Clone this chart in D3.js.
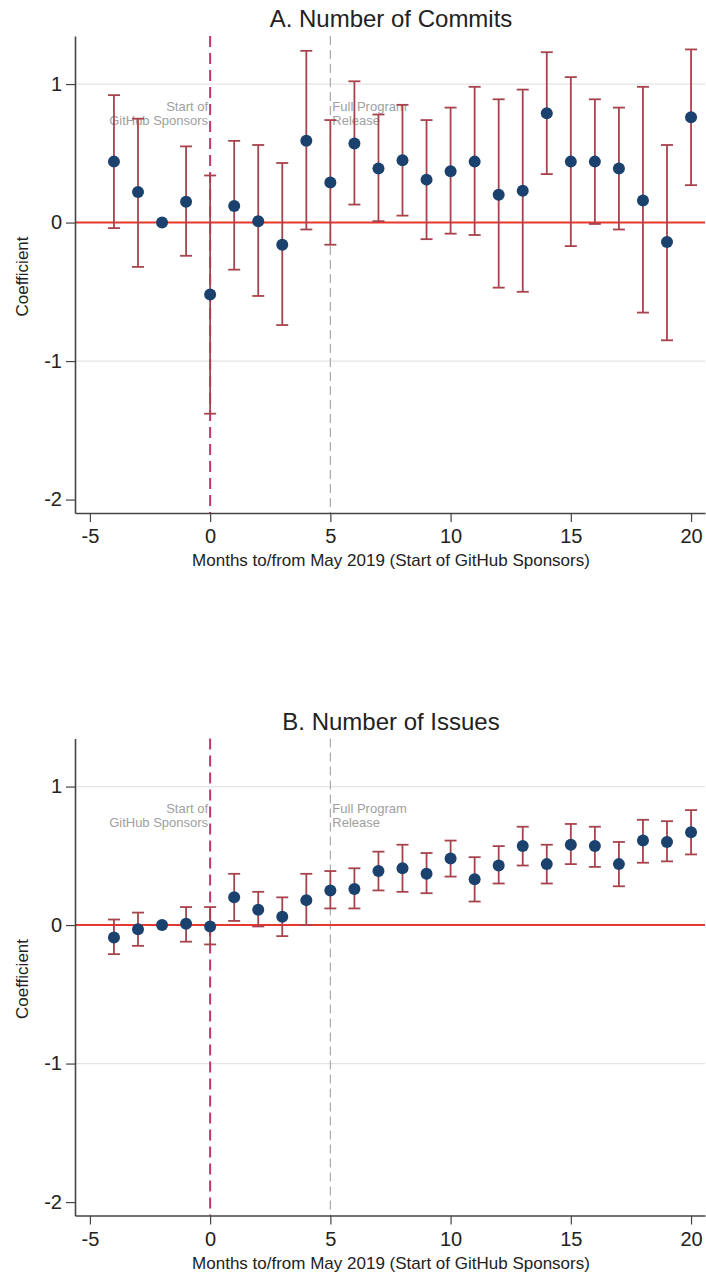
<!DOCTYPE html>
<html>
<head>
<meta charset="utf-8">
<script src="https://cdn.jsdelivr.net/npm/d3@7"></script>
<style>
  body { margin: 0; background: #fff; }
  svg { display: block; font-family: "Liberation Sans", Arial, sans-serif; }
</style>
</head>
<body>
<svg width="706" height="1275"></svg>
<script>
// event-study coefficients, months relative to May 2019
const months = [-4, -3, -2, -1, 0, 1, 2, 3, 4, 5, 6, 7, 8, 9, 10, 11, 12, 13, 14, 15, 16, 17, 18, 19, 20];

const commitsCoef = [0.44, 0.22, 0, 0.15, -0.52, 0.12, 0.01, -0.16, 0.59, 0.29, 0.57, 0.39, 0.45, 0.31, 0.37, 0.44, 0.20, 0.23, 0.79, 0.44, 0.44, 0.39, 0.16, -0.14, 0.76];
const commitsLo = [-0.04, -0.32, null, -0.24, -1.38, -0.34, -0.53, -0.74, -0.05, -0.16, 0.13, 0.01, 0.05, -0.12, -0.08, -0.09, -0.47, -0.50, 0.35, -0.17, -0.01, -0.05, -0.65, -0.85, 0.27];
const commitsHi = [0.92, 0.75, null, 0.55, 0.34, 0.59, 0.56, 0.43, 1.24, 0.74, 1.02, 0.78, 0.85, 0.74, 0.83, 0.98, 0.89, 0.96, 1.23, 1.05, 0.89, 0.83, 0.98, 0.56, 1.25];

const issuesCoef = [-0.09, -0.03, 0, 0.01, -0.01, 0.20, 0.11, 0.06, 0.18, 0.25, 0.26, 0.39, 0.41, 0.37, 0.48, 0.33, 0.43, 0.57, 0.44, 0.58, 0.57, 0.44, 0.61, 0.60, 0.67];
const issuesLo = [-0.21, -0.15, null, -0.12, -0.14, 0.03, -0.01, -0.08, 0.00, 0.12, 0.12, 0.25, 0.24, 0.23, 0.35, 0.17, 0.30, 0.43, 0.30, 0.44, 0.42, 0.28, 0.45, 0.46, 0.51];
const issuesHi = [0.04, 0.09, null, 0.13, 0.13, 0.37, 0.24, 0.20, 0.37, 0.39, 0.41, 0.53, 0.58, 0.52, 0.61, 0.49, 0.57, 0.71, 0.58, 0.73, 0.71, 0.60, 0.76, 0.75, 0.83];

const xTicks = [-5, 0, 5, 10, 15, 20];
const yTicks = [1, 0, -1, -2];
const events = [
  {month: 0, lines: ["Start of", "GitHub Sponsors"], side: "left"},
  {month: 5, lines: ["Full Program", "Release"], side: "right"}
];

const svg = d3.select("svg");

const x = d3.scaleLinear().domain([-5.62, 20.58]).range([75, 705]);
const y = d3.scaleLinear().domain([-2.097, 1.347]).range([513, 36]);

function drawPanel(offset, title, coef, lo, hi) {
  const g = svg.append("g").attr("transform", `translate(0,${offset})`);
  const rows = months.map((m, i) => ({m, c: coef[i], lo: lo[i], hi: hi[i]}));

  // grid at 1 and -1
  g.selectAll(".grid").data([1, -1]).join("line")
    .attr("x1", x.range()[0]).attr("x2", x.range()[1])
    .attr("y1", d => y(d)).attr("y2", d => y(d))
    .attr("stroke", "#e4e4e4").attr("stroke-width", 1.2);

  // event lines
  g.append("line")
    .attr("x1", x(0)).attr("x2", x(0)).attr("y1", y.range()[1]).attr("y2", y.range()[0])
    .attr("stroke", "#c4336b").attr("stroke-width", 2).attr("stroke-dasharray", "11,6");
  g.append("line")
    .attr("x1", x(5)).attr("x2", x(5)).attr("y1", y.range()[1]).attr("y2", y.range()[0])
    .attr("stroke", "#aaaaaa").attr("stroke-width", 1.2).attr("stroke-dasharray", "9,5");

  events.forEach(ev => {
    const t = g.append("text")
      .attr("font-size", 13).attr("fill", "#a0a0a0")
      .attr("text-anchor", ev.side === "left" ? "end" : "start");
    ev.lines.forEach((s, k) => {
      t.append("tspan")
        .attr("x", x(ev.month) + (ev.side === "left" ? -2 : 2))
        .attr("y", y(0.84 - k * 0.1))
        .attr("dy", "0.35em")
        .text(s);
    });
  });

  // zero line
  g.append("line")
    .attr("x1", x.range()[0]).attr("x2", x.range()[1])
    .attr("y1", y(0)).attr("y2", y(0))
    .attr("stroke", "#e8372f").attr("stroke-width", 2);

  // confidence intervals
  const ci = rows.filter(d => d.lo !== null);
  const barColor = "#a8424c";
  g.selectAll(".ci").data(ci).join("line")
    .attr("x1", d => x(d.m)).attr("x2", d => x(d.m))
    .attr("y1", d => y(d.lo)).attr("y2", d => y(d.hi))
    .attr("stroke", barColor).attr("stroke-width", 1.8);
  ["lo", "hi"].forEach(k => {
    g.selectAll(".cap-" + k).data(ci).join("line")
      .attr("x1", d => x(d.m) - 6).attr("x2", d => x(d.m) + 6)
      .attr("y1", d => y(d[k])).attr("y2", d => y(d[k]))
      .attr("stroke", barColor).attr("stroke-width", 1.8);
  });

  // points
  g.selectAll(".pt").data(rows).join("circle")
    .attr("cx", d => x(d.m)).attr("cy", d => y(d.c)).attr("r", 6)
    .attr("fill", "#1b426f");

  // axes
  const fmt = d => String(d);
  const xAxis = g.append("g").attr("transform", `translate(0,${y.range()[0]})`)
    .call(d3.axisBottom(x).tickValues(xTicks).tickFormat(fmt).tickSize(9).tickPadding(7).tickSizeOuter(0));
  const yAxis = g.append("g").attr("transform", `translate(${x.range()[0]},0)`)
    .call(d3.axisLeft(y).tickValues(yTicks).tickFormat(fmt).tickSize(9).tickPadding(4).tickSizeOuter(0));
  [xAxis, yAxis].forEach(a => {
    a.select(".domain").attr("stroke", "#444").attr("stroke-width", 1.6);
    a.selectAll(".tick line").attr("stroke", "#444").attr("stroke-width", 1.2);
    a.selectAll(".tick text").attr("font-size", 20).attr("fill", "#222")
      .attr("font-family", "Liberation Sans, Arial, sans-serif");
  });

  g.append("text")
    .attr("x", 391).attr("y", 27)
    .attr("text-anchor", "middle").attr("font-size", 24).attr("fill", "#222")
    .text(title);

  g.append("text")
    .attr("x", 391).attr("y", 566)
    .attr("text-anchor", "middle").attr("font-size", 17).attr("fill", "#222")
    .text("Months to/from May 2019 (Start of GitHub Sponsors)");

  g.append("text")
    .attr("transform", `translate(28,${(y.range()[0] + y.range()[1]) / 2 + 2}) rotate(-90)`)
    .attr("text-anchor", "middle").attr("font-size", 17).attr("fill", "#222")
    .text("Coefficient");
}

drawPanel(0, "A. Number of Commits", commitsCoef, commitsLo, commitsHi);
drawPanel(702.5, "B. Number of Issues", issuesCoef, issuesLo, issuesHi);
</script>
</body>
</html>
